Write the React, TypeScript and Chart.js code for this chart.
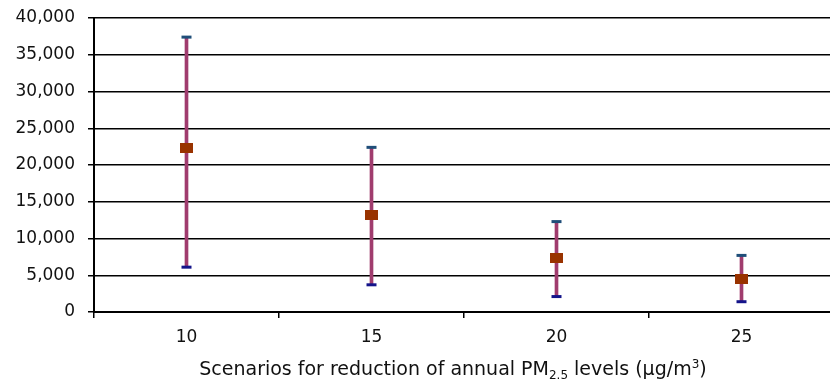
import React, { useEffect, useRef } from "react";
import { Chart, registerables } from "chart.js";

Chart.register(...registerables);

const categories = ["10", "15", "20", "25"];
const meanValues = [22300, 13200, 7300, 4500];
const lowValues = [6100, 3700, 2100, 1400];
const highValues = [37400, 22400, 12300, 7700];
const yTicks = [0, 5000, 10000, 15000, 20000, 25000, 30000, 35000, 40000];
// x-axis title pieces: [text, kind] where kind is "n" normal, "sub", "sup"
const titleParts: [string, string][] = [
  ["Scenarios for reduction of annual PM", "n"],
  ["2.5", "sub"],
  [" levels (µg/m", "n"],
  ["3", "sup"],
  [")", "n"],
];

const FONT = "'DejaVu Sans', 'Liberation Sans', sans-serif";
const TITLE_SIZE = 19;

const titlePlugin = {
  id: "richXTitle",
  afterDraw(chart: any) {
    const ctx = chart.ctx as CanvasRenderingContext2D;
    const small = Math.round(TITLE_SIZE * 0.65);
    const fontFor = (k: string) =>
      `${k === "n" ? TITLE_SIZE : small}px ${FONT}`;
    let total = 0;
    for (const [t, k] of titleParts) {
      ctx.font = fontFor(k);
      total += ctx.measureText(t).width;
    }
    const cx = 453;
    const baseY = chart.height - 4;
    let x = cx - total / 2;
    ctx.save();
    ctx.fillStyle = "#111";
    ctx.textBaseline = "alphabetic";
    ctx.textAlign = "left";
    for (const [t, k] of titleParts) {
      ctx.font = fontFor(k);
      const dy = k === "sub" ? 4 : k === "sup" ? -7 : 0;
      ctx.fillText(t, x, baseY + dy);
      x += ctx.measureText(t).width;
    }
    ctx.restore();
  },
};

export default function App() {
  const ref = useRef<HTMLCanvasElement | null>(null);

  useEffect(() => {
    if (!ref.current) return;
    const marker = document.createElement("canvas");
    marker.width = 13;
    marker.height = 10;
    const mctx = marker.getContext("2d")!;
    mctx.fillStyle = "#993300";
    mctx.fillRect(0, 0, 13, 10);

    const ranges = lowValues.map((lo, i) => [lo, highValues[i]]);

    const chart = new Chart(ref.current, {
      type: "bar",
      data: {
        labels: categories,
        datasets: [
          {
            type: "bar",
            data: ranges as any,
            backgroundColor: "#a03c6e",
            borderWidth: 0,
            barThickness: 3,
            order: 3,
          } as any,
          {
            type: "line",
            data: highValues,
            showLine: false,
            pointStyle: "line",
            pointRadius: 5,
            pointBorderWidth: 3,
            pointBorderColor: "#1f4e79",
            borderColor: "#1f4e79",
            order: 2,
          } as any,
          {
            type: "line",
            data: lowValues,
            showLine: false,
            pointStyle: "line",
            pointRadius: 5,
            pointBorderWidth: 3,
            pointBorderColor: "#14148a",
            borderColor: "#14148a",
            order: 2,
          } as any,
          {
            type: "line",
            data: meanValues,
            showLine: false,
            pointStyle: marker,
            pointRadius: 6,
            order: 1,
          } as any,
        ],
      },
      options: {
        responsive: false,
        animation: false,
        devicePixelRatio: 1,
        layout: { padding: { top: 18, right: 3, bottom: 0, left: 0 } },
        plugins: {
          legend: { display: false },
          tooltip: { enabled: false },
        },
        scales: {
          x: {
            type: "category",
            offset: true,
            grid: {
              offset: true,
              drawOnChartArea: false,
              drawTicks: true,
              tickLength: 6,
              color: "#000",
              lineWidth: 1.5,
            },
            border: { display: true, color: "#000", width: 2 },
            ticks: {
              color: "#111",
              font: { family: FONT, size: 17 },
              padding: 9,
            },
            afterFit: (scale: any) => {
              scale.height = 67;
              scale.paddingLeft = 0;
              scale.paddingRight = 0;
            },
          },
          y: {
            min: 0,
            max: 40000,
            afterBuildTicks: (scale: any) => {
              scale.ticks = yTicks.map((v) => ({ value: v }));
            },
            grid: {
              color: "#000",
              lineWidth: 1.5,
              tickLength: 6,
            },
            border: { display: true, color: "#000", width: 2 },
            ticks: {
              color: "#111",
              font: { family: FONT, size: 17 },
              padding: 13,
              callback: (v: any) => Number(v).toLocaleString("en-US"),
            },
            afterFit: (scale: any) => {
              scale.width = 94;
              scale.paddingTop = 0;
              scale.paddingBottom = 0;
            },
          },
        },
      },
      plugins: [titlePlugin],
    });
    return () => chart.destroy();
  }, []);

  return (
    <div
      style={{
        position: "fixed",
        top: 0,
        left: 0,
        width: 830,
        height: 379,
        overflow: "hidden",
        background: "#fff",
      }}
    >
      <canvas ref={ref} width={842} height={379} style={{ display: "block" }} />
    </div>
  );
}
